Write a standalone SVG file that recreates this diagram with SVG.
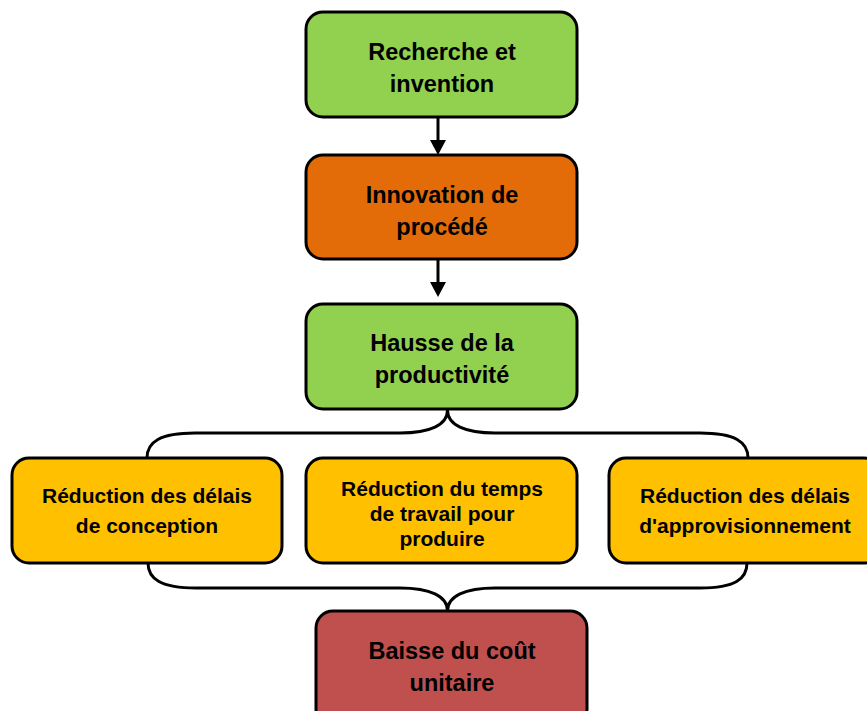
<svg xmlns="http://www.w3.org/2000/svg" width="867" height="711" viewBox="0 0 867 711">
<style>
.box{stroke:#000;stroke-width:3}
.green{fill:#92D050}.orange{fill:#E36C09}.yellow{fill:#FFC000}.red{fill:#C0504D}
.t{font-family:"Liberation Sans",Arial,sans-serif;font-weight:bold;fill:#000;text-anchor:middle}
.big{font-size:23.5px}.small{font-size:21px}
.conn{fill:none;stroke:#000;stroke-width:3}
</style>
<defs>
<marker id="arr" markerWidth="16" markerHeight="16" refX="3" refY="8" orient="auto" markerUnits="userSpaceOnUse">
<path d="M0,0 L15,8 L0,16 Z" fill="#000"/>
</marker>
</defs>
<rect width="867" height="711" fill="#fff"/>
<g id="connectors">
<line class="conn" x1="438" y1="118" x2="438" y2="143" marker-end="url(#arr)"/>
<line class="conn" x1="438" y1="260" x2="438" y2="285" marker-end="url(#arr)"/>
<path class="conn" d="M147,458 C147,442 160,433 195,433 L400,433 C430,433 447.5,425 447.5,410 C447.5,425 465,433 495,433 L700,433 C735,433 748,442 748,458"/>
<path class="conn" d="M148,563 C148,579 161,588 196,588 L400,588 C430,588 447.5,596 447.5,611 C447.5,596 465,588 495,588 L700,588 C735,588 747,579 747,563"/>
</g>
<g id="n1">
<rect class="box green" x="306" y="12" width="271" height="105" rx="17"/>
<text class="t big" x="442" y="60">Recherche et</text>
<text class="t big" x="442" y="92">invention</text>
</g>
<g id="n2">
<rect class="box orange" x="306" y="155" width="271" height="104" rx="17"/>
<text class="t big" x="442" y="203">Innovation de</text>
<text class="t big" x="442" y="235">procédé</text>
</g>
<g id="n3">
<rect class="box green" x="306" y="304" width="271" height="105" rx="17"/>
<text class="t big" x="442" y="351">Hausse de la</text>
<text class="t big" x="442" y="383">productivité</text>
</g>
<g id="n4">
<rect class="box yellow" x="12" y="458" width="270" height="105" rx="17"/>
<text class="t small" x="147" y="503">Réduction des délais</text>
<text class="t small" x="147" y="533">de conception</text>
</g>
<g id="n5">
<rect class="box yellow" x="306" y="458" width="271" height="105" rx="17"/>
<text class="t small" x="442" y="496">Réduction du temps</text>
<text class="t small" x="442" y="521">de travail pour</text>
<text class="t small" x="442" y="546">produire</text>
</g>
<g id="n6">
<rect class="box yellow" x="609" y="458" width="272" height="105" rx="17"/>
<text class="t small" x="745" y="503">Réduction des délais</text>
<text class="t small" x="745" y="533">d'approvisionnement</text>
</g>
<g id="n7">
<rect class="box red" x="316" y="611" width="271" height="115" rx="17"/>
<text class="t big" x="452" y="659">Baisse du coût</text>
<text class="t big" x="452" y="691">unitaire</text>
</g>
</svg>
